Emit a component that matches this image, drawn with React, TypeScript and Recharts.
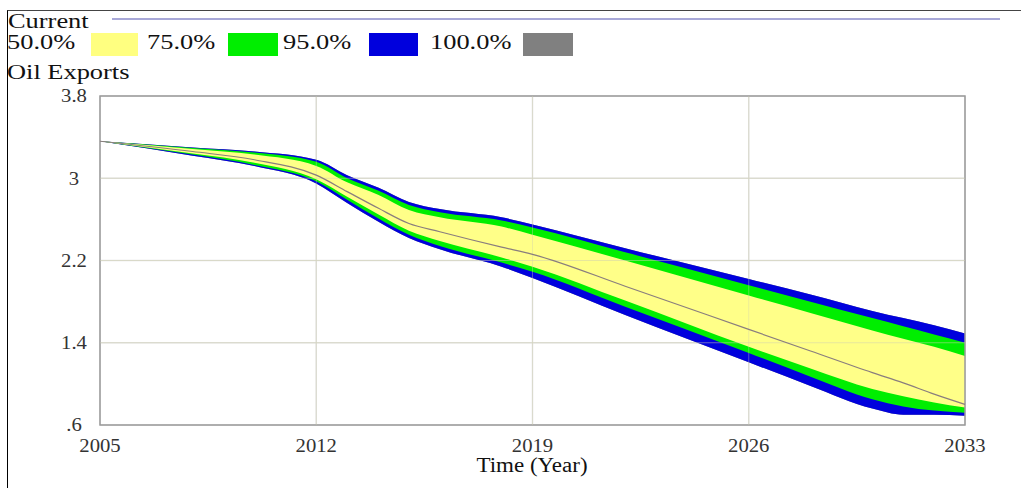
import {
  ComposedChart,
  Area,
  Line,
  XAxis,
  YAxis,
  CartesianGrid,
  ReferenceArea,
  ReferenceLine,
} from 'recharts';

const years = [2005, 2008, 2010, 2012, 2013, 2014, 2015, 2016, 2018, 2019, 2022, 2026, 2028, 2030, 2031, 2032, 2033];
const median = [3.36, 3.26, 3.18, 3.03, 2.87, 2.71, 2.56, 2.48, 2.33, 2.26, 1.95, 1.53, 1.32, 1.11, 1.01, 0.9, 0.8];
const yellowHi = [3.36, 3.285, 3.23, 3.12, 2.96, 2.84, 2.69, 2.62, 2.53, 2.45, 2.2, 1.86, 1.69, 1.52, 1.44, 1.36, 1.27];
const yellowLo = [3.36, 3.24, 3.15, 2.99, 2.82, 2.65, 2.49, 2.39, 2.23, 2.14, 1.81, 1.36, 1.15, 0.95, 0.88, 0.82, 0.77];
const greenHi = [3.36, 3.295, 3.25, 3.16, 3.0, 2.88, 2.74, 2.67, 2.59, 2.52, 2.28, 1.96, 1.8, 1.64, 1.56, 1.48, 1.4];
const greenLo = [3.36, 3.23, 3.13, 2.97, 2.79, 2.61, 2.45, 2.34, 2.18, 2.09, 1.75, 1.3, 1.07, 0.85, 0.78, 0.74, 0.72];
const blueHi = [3.36, 3.3, 3.26, 3.18, 3.03, 2.91, 2.77, 2.7, 2.62, 2.55, 2.32, 2.02, 1.87, 1.71, 1.64, 1.57, 1.49];
const blueLo = [3.36, 3.22, 3.12, 2.95, 2.76, 2.58, 2.42, 2.31, 2.14, 2.03, 1.67, 1.21, 0.98, 0.76, 0.7, 0.7, 0.69];
// 100% band is hidden behind the 95% band in the picture
const grayHi = blueHi;
const grayLo = blueLo;

const xTicks = [2005, 2012, 2019, 2026, 2033];
const yTicks = [0.6, 1.4, 2.2, 3, 3.8];
const yTickLabels = ['.6', '1.4', '2.2', '3', '3.8'];

const legendItems = [
  { label: '50.0%', color: '#ffff80', textLeft: 7, boxLeft: 91, boxWidth: 47 },
  { label: '75.0%', color: '#00ee00', textLeft: 147, boxLeft: 228, boxWidth: 50 },
  { label: '95.0%', color: '#0000dd', textLeft: 283, boxLeft: 369, boxWidth: 49 },
  { label: '100.0%', color: '#808080', textLeft: 430, boxLeft: 523, boxWidth: 50 },
];

const data = years.map((year, i) => ({
  year,
  median: median[i],
  p50: [yellowLo[i], yellowHi[i]],
  p75: [greenLo[i], greenHi[i]],
  p95: [blueLo[i], blueHi[i]],
  p100: [grayLo[i], grayHi[i]],
}));

const serif = '"Liberation Serif", "Times New Roman", serif';

const stretched = (left: number, top: number, size: number): React.CSSProperties => ({
  position: 'absolute',
  left,
  top,
  fontFamily: serif,
  fontSize: size,
  lineHeight: `${size}px`,
  color: '#111',
  whiteSpace: 'nowrap',
  transform: 'scaleX(1.32)',
  transformOrigin: '0 0',
});

const XTick = ({ x, y, payload }: any) => (
  <g transform={`translate(${x},${y})`}>
    <text transform="scale(1.15,1)" textAnchor="middle" dy="0.71em" fill="#333" fontSize={18} style={{ fontFamily: serif }}>
      {payload.value}
    </text>
  </g>
);

const YTick = ({ y, payload }: any) => {
  const idx = yTicks.indexOf(payload.value);
  return (
    <g transform={`translate(74,${y})`}>
      <text transform="scale(1.15,1)" textAnchor="middle" dy="0.35em" fill="#333" fontSize={18} style={{ fontFamily: serif }}>
        {idx >= 0 ? yTickLabels[idx] : payload.value}
      </text>
    </g>
  );
};

export default function App() {
  return (
    <div style={{ position: 'absolute', left: 0, top: 0, width: 1021, height: 488, overflow: 'hidden', background: '#fff' }}>
      <div
        style={{
          position: 'absolute',
          left: 7,
          top: 10,
          width: 1100,
          height: 600,
          borderLeft: '1px solid #000',
          borderTop: '1px solid #444',
        }}
      />
      <div style={stretched(8, 11, 20)}>Current</div>
      <div style={{ position: 'absolute', left: 112, top: 18, width: 888, height: 2, background: '#a8a8d8' }} />
      {legendItems.map((item) => (
        <div key={item.label}>
          <div style={stretched(item.textLeft, 32, 20)}>{item.label}</div>
          <div
            style={{
              position: 'absolute',
              left: item.boxLeft,
              top: 33,
              width: item.boxWidth,
              height: 23,
              background: item.color,
            }}
          />
        </div>
      ))}
      <div style={stretched(7, 62, 20)}>Oil Exports</div>
      <div
        style={{
          position: 'absolute',
          left: 432,
          top: 455,
          width: 200,
          textAlign: 'center',
          fontFamily: serif,
          fontSize: 20,
          lineHeight: '20px',
          color: '#111',
          transform: 'scaleX(1.15)',
        }}
      >
        Time (Year)
      </div>
      <div style={{ position: 'absolute', left: 0, top: 0 }}>
        <ComposedChart width={1021} height={488} data={data} margin={{ top: 96, right: 56, bottom: 23, left: 40 }}>
          <CartesianGrid stroke="#e2e2e2" strokeWidth={1.5} />
          <XAxis
            dataKey="year"
            type="number"
            domain={[2005, 2033]}
            ticks={xTicks}
            tick={<XTick />}
            tickLine={false}
            axisLine={false}
            tickMargin={8}
            height={40}
          />
          <YAxis
            type="number"
            domain={[0.6, 3.8]}
            ticks={yTicks}
            tick={<YTick />}
            tickLine={false}
            axisLine={false}
            width={60}
          />
          <Area dataKey="p100" type="monotone" stroke="none" fill="#808080" fillOpacity={1} isAnimationActive={false} />
          <Area dataKey="p95" type="monotone" stroke="none" fill="#0000dd" fillOpacity={1} isAnimationActive={false} />
          <Area dataKey="p75" type="monotone" stroke="none" fill="#00ee00" fillOpacity={1} isAnimationActive={false} />
          <Area dataKey="p50" type="monotone" stroke="none" fill="#ffff88" fillOpacity={1} isAnimationActive={false} />
          {[3, 2.2, 1.4].map((v) => (
            <ReferenceLine key={`h${v}`} y={v} stroke="#d0d0b0" strokeOpacity={0.5} strokeWidth={1} />
          ))}
          {[2012, 2019, 2026].map((v) => (
            <ReferenceLine key={`v${v}`} x={v} stroke="#d0d0b0" strokeOpacity={0.4} strokeWidth={1} />
          ))}
          <Line dataKey="median" type="monotone" stroke="#8a7e7e" strokeWidth={1.2} dot={false} isAnimationActive={false} />
          <ReferenceArea x1={2005} x2={2033} y1={0.6} y2={3.8} fill="none" stroke="#9a9a9a" strokeWidth={1.5} />
        </ComposedChart>
      </div>
    </div>
  );
}
